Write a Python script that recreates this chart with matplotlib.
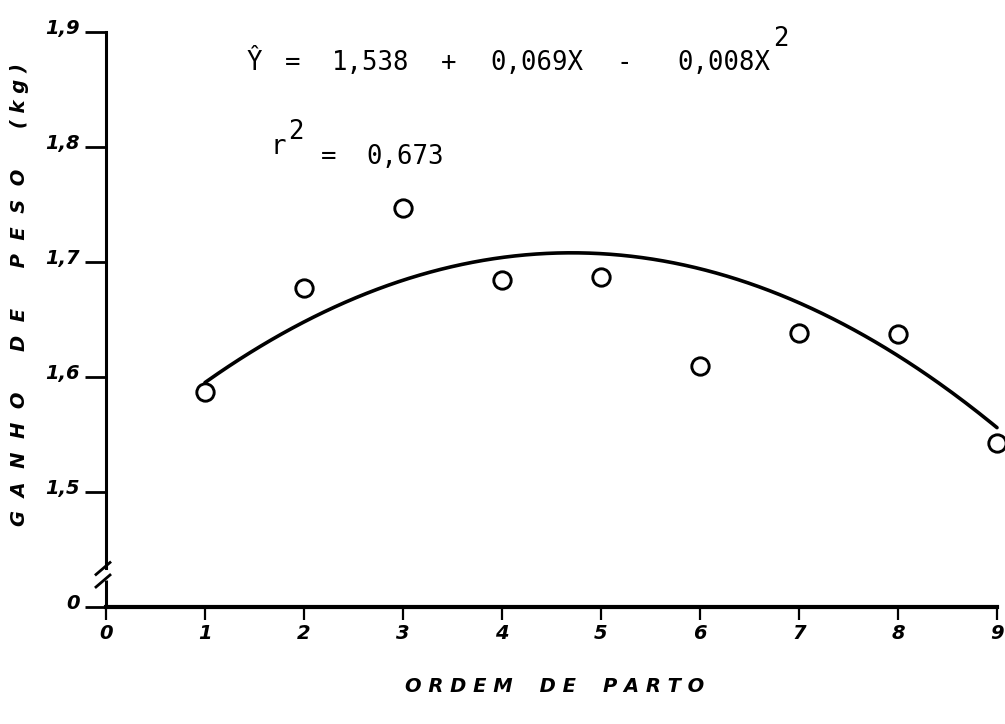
import matplotlib
matplotlib.use("Agg")
import matplotlib.pyplot as plt
import numpy as np
from matplotlib.lines import Line2D
from matplotlib.transforms import ScaledTranslation

# ---- data ----
parto = [1, 2, 3, 4, 5, 6, 7, 8, 9]
ganho = [1.587, 1.677, 1.747, 1.684, 1.687, 1.610, 1.638, 1.637, 1.543]
# coefficients (a, b, c) of the fitted curve as drawn
curve_coef = [1.526, 0.0774, -0.00823]
x_ticks = [0, 1, 2, 3, 4, 5, 6, 7, 8, 9]
x_tick_labels = ["0", "1", "2", "3", "4", "5", "6", "7", "8", "9"]
y_ticks = [1.4, 1.5, 1.6, 1.7, 1.8, 1.9]
y_tick_labels = ["0", "1,5", "1,6", "1,7", "1,8", "1,9"]
eq_tokens = ["Ŷ", "=", "1,538", "+", "0,069X", "-", "0,008X"]
r2_value = "0,673"
x_title = "O R D E M    D E    P A R T O"
y_title = "G  A  N  H  O      D  E      P  E  S  O      ( k g )"

W, H = 1005, 724
fig = plt.figure(figsize=(W / 100, H / 100), dpi=100)
fig.patch.set_facecolor("white")


def fx(px):
    return px / W


def fy(py):
    return 1 - py / H


ax = fig.add_axes([fx(106), fy(607), fx(997) - fx(106), fy(32) - fy(607)])
ax.set_xlim(0, 9)
ax.set_ylim(1.4, 1.9)
ax.set_facecolor("none")

# fitted curve
xs = np.linspace(parto[0], parto[-1], 300)
a, b, c = curve_coef
ax.plot(xs, a + b * xs + c * xs ** 2, color="black", lw=2.6,
        solid_capstyle="round", clip_on=False, zorder=2)
# observed points
ax.plot(parto, ganho, linestyle="none", marker="o", ms=12.5, mfc="white",
        mec="black", mew=2.1, clip_on=False, zorder=3)

# axes styling
for s in ["top", "right"]:
    ax.spines[s].set_visible(False)
ax.spines["left"].set_linewidth(2.2)
ax.spines["bottom"].set_linewidth(3.0)
brk_lo, brk_hi = 1.4235, 1.434
ax.spines["left"].set_bounds(brk_hi, 1.9)
ax.plot([0, 0], [1.4, brk_lo], color="black", lw=2.2, clip_on=False,
        solid_capstyle="butt")

tick_font = dict(family="DejaVu Sans", weight="bold", style="oblique", size=14)
ax.set_xticks(x_ticks)
ax.set_xticklabels(x_tick_labels, fontdict=tick_font)
ax.set_yticks(y_ticks)
ax.set_yticklabels(y_tick_labels, fontdict=tick_font)
ax.tick_params(axis="x", direction="out", length=9, width=1.6, pad=3)
ax.tick_params(axis="y", direction="out", length=15, width=2.0, pad=4)
for lbl in ax.get_yticklabels():
    lbl.set_transform(lbl.get_transform() +
                      ScaledTranslation(0, 4 / 72, fig.dpi_scale_trans))

# axis break slashes (pixel positions)
for cy in (568.5, 581):
    fig.add_artist(Line2D([fx(96), fx(110)], [fy(cy + 6), fy(cy - 6)],
                          color="black", lw=2.0, transform=fig.transFigure))

# axis titles
title_font = dict(family="DejaVu Sans", weight="bold", style="oblique", size=14)
fig.text(fx(555), fy(686), x_title, ha="center", va="center", **title_font)
fig.text(fx(20), fy(295), y_title, ha="center", va="center", rotation=90,
         **title_font)

# regression equation (monospaced plotter lettering, pitch ~19.5 px)
mono = dict(family="DejaVu Sans Mono", size=18.5, color="black")
pitch, x0, base = 19.5, 244, 70
idx = 0
for tok in eq_tokens:
    cx = x0 + (idx + len(tok) / 2) * pitch
    if tok == eq_tokens[-1]:
        fig.text(fx(x0 + (idx + len(tok)) * pitch), fy(base), tok,
                 ha="right", va="baseline", **mono)
    else:
        fig.text(fx(cx), fy(base), tok, ha="center", va="baseline", **mono)
    idx += len(tok) + 1
fig.text(fx(781), fy(46), "2", ha="center", va="baseline", **mono)

# r^2
fig.text(fx(278), fy(154), "r", ha="center", va="baseline", **mono)
fig.text(fx(296), fy(139), "2", ha="center", va="baseline", **mono)
fig.text(fx(329), fy(164), "=", ha="center", va="baseline", **mono)
fig.text(fx(405), fy(164), r2_value, ha="center", va="baseline", **mono)

fig.savefig("out.png", dpi=100, facecolor="white")
